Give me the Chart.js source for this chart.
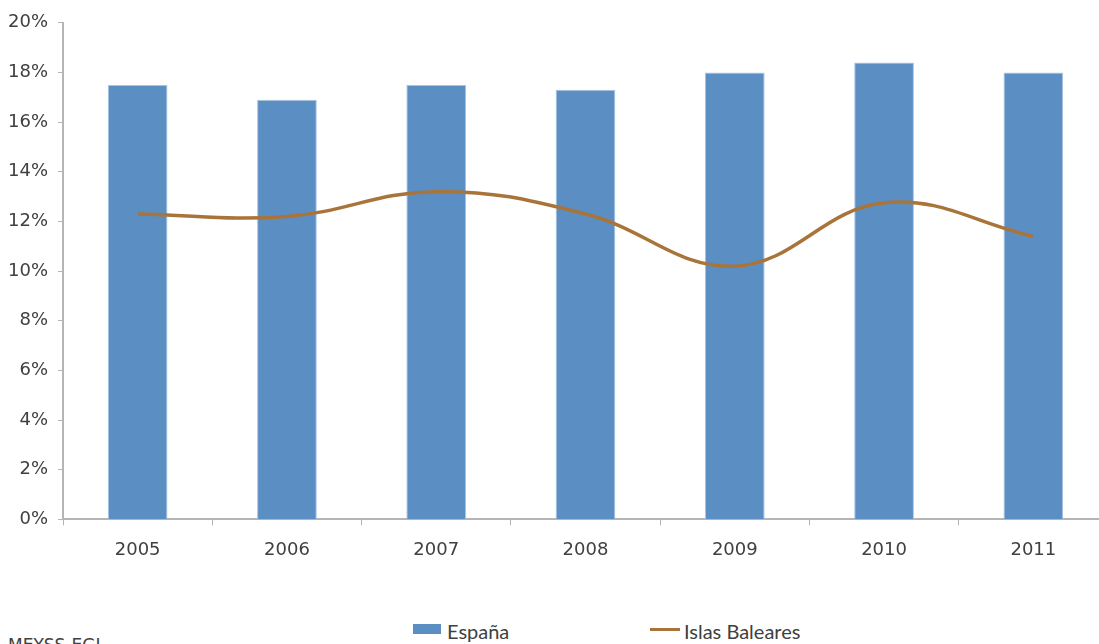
<!DOCTYPE html>
<html>
<head>
<meta charset="utf-8">
<script src="https://cdn.jsdelivr.net/npm/chart.js@4"></script>
<style>
  html, body { margin: 0; padding: 0; background: #fff; overflow: hidden; }
  #wrap { position: relative; width: 1099px; height: 644px; overflow: hidden; }
  #box { position: absolute; left: 0; top: 2px; width: 1108px; height: 590px; }
  #legend { position: absolute; top: 619px; left: 0; width: 1099px; font-family: Lato, sans-serif; font-size: 20px; color: #404040; }
  #legend .item { position: absolute; white-space: nowrap; }
  #legend .swatch { display: inline-block; vertical-align: top; }
  #source { position: absolute; left: 8px; top: 635px; font-family: "DejaVu Sans", sans-serif; font-size: 17px; color: #404040; }
</style>
</head>
<body>
<div id="wrap">
  <div id="box"><canvas id="chart"></canvas></div>
  <div id="legend"></div>
  <div id="source">MEYSS-EGL</div>
</div>
<script>
(() => {
  'use strict'

  const years = ['2005', '2006', '2007', '2008', '2009', '2010', '2011']
  const espana = [17.5, 16.9, 17.5, 17.3, 18.0, 18.4, 18.0]
  const baleares = [12.3, 12.2, 13.2, 12.3, 10.2, 12.75, 11.4]

  const blue = '#5b8fc4'
  const brown = '#a9743a'

  const ctx = document.getElementById('chart')
  const chart = new Chart(ctx, {
    data: {
      labels: years,
      datasets: [{
        type: 'line',
        label: 'Islas Baleares',
        data: baleares,
        borderColor: brown,
        borderWidth: 3.5,
        tension: 0.4,
        pointRadius: 0,
        fill: false,
        order: 0
      }, {
        type: 'bar',
        label: 'España',
        data: espana,
        backgroundColor: blue,
        borderColor: '#a7c2e2',
        borderWidth: 1,
        barPercentage: 0.4,
        categoryPercentage: 1,
        order: 1
      }]
    },
    options: {
      responsive: true,
      maintainAspectRatio: false,
      animation: false,
      layout: { padding: { top: 16, left: -2, right: 0, bottom: 17 } },
      plugins: {
        legend: { display: false },
        tooltip: { enabled: false }
      },
      scales: {
        x: {
          grid: {
            drawOnChartArea: false,
            color: '#b5b5b5',
            tickLength: 6,
            offset: true
          },
          border: { color: '#b5b5b5', width: 2 },
          ticks: {
            color: '#404040',
            padding: 14,
            font: { family: 'DejaVu Sans', size: 18 }
          }
        },
        y: {
          min: 0,
          max: 20,
          grid: {
            drawOnChartArea: false,
            color: '#b5b5b5',
            tickLength: 5
          },
          border: { color: '#b5b5b5', width: 2 },
          ticks: {
            stepSize: 2,
            color: '#404040',
            padding: 10,
            font: { family: 'DejaVu Sans', size: 18 },
            callback: v => v + '%'
          }
        }
      }
    }
  })

  // legend built from the datasets, placed like the original
  const legend = document.getElementById('legend')
  const spots = { 'España': 413, 'Islas Baleares': 650 }
  chart.data.datasets.forEach(ds => {
    const item = document.createElement('span')
    item.className = 'item'
    item.style.left = spots[ds.label] + 'px'
    const sw = document.createElement('span')
    sw.className = 'swatch'
    if (ds.type === 'bar') {
      sw.style.cssText = 'width:28px;height:10px;margin-top:5px;margin-right:6px;background:' + ds.backgroundColor
    } else {
      sw.style.cssText = 'width:30px;height:3px;margin-top:9px;margin-right:4px;background:' + ds.borderColor
    }
    item.appendChild(sw)
    item.appendChild(document.createTextNode(ds.label))
    legend.appendChild(item)
  })
})()
</script>
</body>
</html>
